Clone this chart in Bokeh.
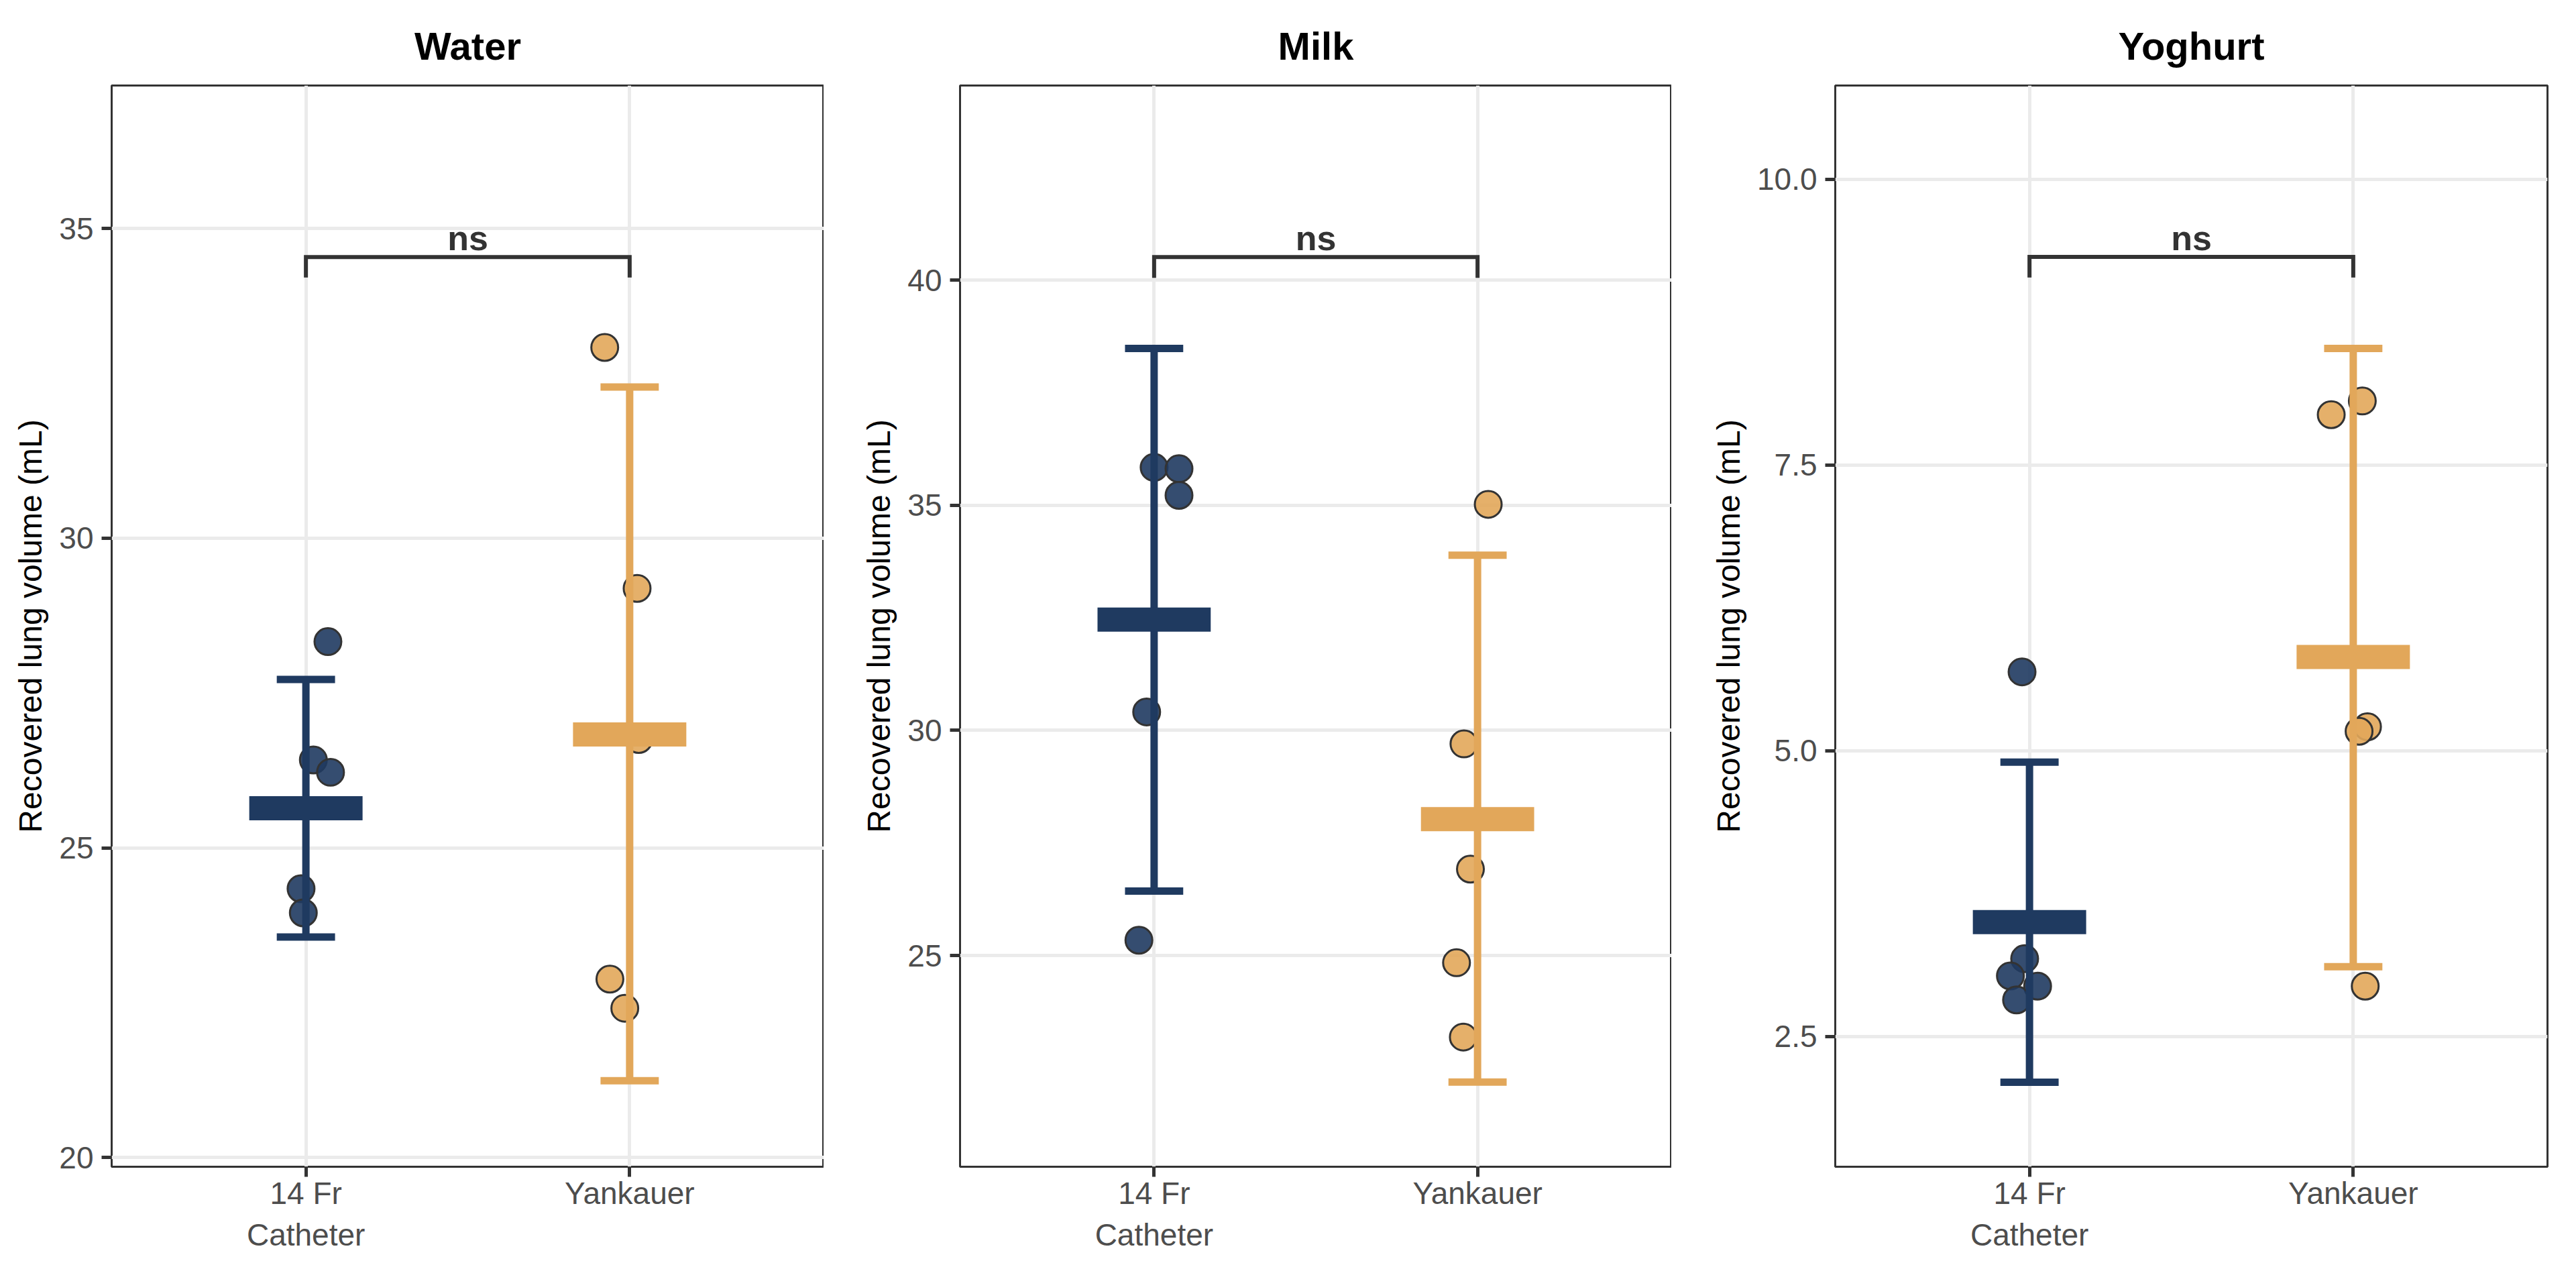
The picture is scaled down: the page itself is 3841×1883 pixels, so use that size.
from bokeh.plotting import figure
from bokeh.layouts import row
from bokeh.models import FixedTicker, Range1d, NumeralTickFormatter
from bokeh.core.properties import value
from bokeh.embed import file_html
from bokeh.resources import INLINE

# ---------------- data ----------------
panels = ["Water", "Milk", "Yoghurt"]
categories = ["14 Fr\nCatheter", "Yankauer"]
cat_pos = [1, 2]

# Water
water_cath_x = [1.068, 1.023, 1.076, 0.985, 0.992]
water_cath_y = [28.33, 26.42, 26.22, 24.34, 23.95]
water_yank_x = [1.923, 2.023, 2.028, 1.939, 1.985]
water_yank_y = [33.08, 29.19, 26.75, 22.88, 22.41]
water_mean = [25.64, 26.83]
water_low = [23.56, 21.24]
water_high = [27.72, 32.44]

# Milk
milk_cath_x = [1.000, 1.077, 1.077, 0.977, 0.953]
milk_cath_y = [35.84, 35.81, 35.22, 30.41, 25.34]
milk_yank_x = [2.033, 1.958, 1.978, 1.935, 1.956]
milk_yank_y = [35.02, 29.70, 26.92, 24.84, 23.19]
milk_mean = [32.46, 28.03]
milk_low = [26.43, 22.19]
milk_high = [38.48, 33.89]

# Yoghurt
yog_cath_x = [0.977, 0.985, 0.941, 1.025, 0.960]
yog_cath_y = [5.69, 3.18, 3.03, 2.94, 2.82]
yog_yank_x = [2.028, 1.932, 2.044, 2.018, 2.037]
yog_yank_y = [8.06, 7.94, 5.21, 5.17, 2.94]
yog_mean = [3.50, 5.82]
yog_low = [2.10, 3.11]
yog_high = [4.90, 8.52]

# axes
y_ranges = [(19.85, 37.31), (20.31, 44.32), (1.36, 10.82)]
y_ticks = [[20, 25, 30, 35], [25, 30, 35, 40], [2.5, 5.0, 7.5, 10.0]]
y_formats = ["0", "0", "0.0"]

# significance brackets
bracket_top = [34.54, 40.51, 9.32]
bracket_bottom = [34.21, 40.05, 9.14]
sig_label = ["ns", "ns", "ns"]

# ---------------- style ----------------
NAVY = "#1F3A60"
ORANGE = "#E2A75A"
group_colors = [NAVY, ORANGE]
FONT = "Liberation Sans"

frame_w = [1062, 1061, 1062]
frame_h = 1612
left_borders = [166, 203, 244]
right_borders = [0, 0, 20]
TOP_BORDER = 127


def make_panel(i, title, cx, cy, yx, yy, means, lows, highs):
    y0, y1 = y_ranges[i]
    p = figure(
        output_backend="svg", toolbar_location=None,
        frame_width=frame_w[i], frame_height=frame_h,
        min_border_left=left_borders[i], min_border_right=right_borders[i],
        min_border_top=TOP_BORDER, min_border_bottom=110,
        x_range=Range1d(0.4, 2.6), y_range=Range1d(y0, y1),
    )
    p.background_fill_color = "white"
    p.border_fill_color = "white"
    p.outline_line_color = "#333333"
    p.outline_line_width = 3

    # title
    p.title.text = title
    p.title.align = "center"
    p.title.text_font = FONT
    p.title.text_font_size = "58px"
    p.title.text_font_style = "bold"
    p.title.text_color = "black"
    p.title.standoff = 53

    # grid
    p.xgrid.ticker = FixedTicker(ticks=cat_pos)
    p.ygrid.ticker = FixedTicker(ticks=y_ticks[i])
    p.grid.grid_line_color = "#EBEBEB"
    p.grid.grid_line_width = 5

    # axes
    p.xaxis.ticker = FixedTicker(ticks=cat_pos)
    p.xaxis.major_label_overrides = {cat_pos[k]: categories[k] for k in range(2)}
    p.yaxis.ticker = FixedTicker(ticks=y_ticks[i])
    p.yaxis.formatter = NumeralTickFormatter(format=y_formats[i])
    p.axis.axis_line_color = None
    p.axis.major_tick_line_color = "#333333"
    p.axis.major_tick_line_width = 5
    p.axis.major_tick_out = 15
    p.axis.major_tick_in = 0
    p.axis.minor_tick_line_color = None
    p.axis.major_label_text_font = FONT
    p.axis.major_label_text_font_size = "46px"
    p.axis.major_label_text_color = "#4D4D4D"
    p.yaxis.major_label_standoff = 12
    p.xaxis.major_label_standoff = -2
    p.yaxis.axis_label = "Recovered lung volume (mL)"
    p.yaxis.axis_label_text_font = FONT
    p.yaxis.axis_label_text_font_size = "48px"
    p.yaxis.axis_label_text_font_style = "normal"
    p.yaxis.axis_label_text_color = "black"
    p.yaxis.axis_label_standoff = 13

    # points (drawn first, under the summary bars)
    p.scatter(cx, cy, size=40, fill_color=NAVY, fill_alpha=0.9,
              line_color="#333333", line_width=3)
    p.scatter(yx, yy, size=40, fill_color=ORANGE, fill_alpha=0.9,
              line_color="#333333", line_width=3)

    # error bars
    p.segment(x0=cat_pos, y0=lows, x1=cat_pos, y1=highs,
              line_color=group_colors, line_width=11, line_cap="butt")
    cap_l = [c - 0.09 for c in cat_pos]
    cap_r = [c + 0.09 for c in cat_pos]
    p.segment(x0=cap_l, y0=lows, x1=cap_r, y1=lows,
              line_color=group_colors, line_width=11, line_cap="butt")
    p.segment(x0=cap_l, y0=highs, x1=cap_r, y1=highs,
              line_color=group_colors, line_width=11, line_cap="butt")

    # mean bars
    p.rect(x=cat_pos, y=means, width=0.35, height=36, height_units="screen",
           fill_color=group_colors, line_color=None)

    # bracket
    bt, bb = bracket_top[i], bracket_bottom[i]
    p.line(x=[cat_pos[0], cat_pos[0], cat_pos[1], cat_pos[1]],
           y=[bb, bt, bt, bb], line_color="#333333", line_width=6,
           line_join="miter")
    px_per_unit = frame_h / (y1 - y0)
    p.text(x=[(cat_pos[0] + cat_pos[1]) / 2], y=[bt + 28 / px_per_unit],
           text=[sig_label[i]],
           text_align="center", text_baseline="alphabetic",
           text_font=value(FONT), text_font_size="52px",
           text_font_style="bold", text_color="#333333")
    return p


p1 = make_panel(0, panels[0], water_cath_x, water_cath_y, water_yank_x, water_yank_y,
                water_mean, water_low, water_high)
p2 = make_panel(1, panels[1], milk_cath_x, milk_cath_y, milk_yank_x, milk_yank_y,
                milk_mean, milk_low, milk_high)
p3 = make_panel(2, panels[2], yog_cath_x, yog_cath_y, yog_yank_x, yog_yank_y,
                yog_mean, yog_low, yog_high)

layout = row(p1, p2, p3, spacing=0)

with open("out.html", "w") as f:
    f.write(file_html(layout, INLINE))
